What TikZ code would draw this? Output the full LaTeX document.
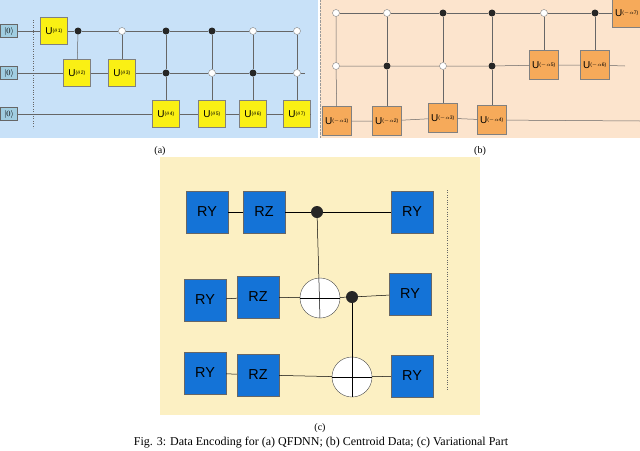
\documentclass[tikz,border=0pt]{standalone}
\usepackage{amsmath}
\usepackage{fontspec}
\setmainfont{Liberation Serif}
\newfontfamily\gatefont{Liberation Sans}
\usetikzlibrary{positioning}
\definecolor{panelA}{RGB}{200,225,248}
\definecolor{panelB}{RGB}{252,228,205}
\definecolor{panelC}{RGB}{252,240,195}
\definecolor{gateA}{RGB}{250,240,20}
\definecolor{gateB}{RGB}{246,170,90}
\definecolor{gateC}{RGB}{20,115,215}
\definecolor{ketbox}{RGB}{160,205,225}
\newcommand{\ulab}[1]{{\gatefont\normalsize U}\textsuperscript{\gatefont(#1)}}
\tikzset{
  wire/.style={draw=black!60, line width=0.5pt},
  ket/.style={draw=black!60, fill=ketbox, minimum width=17pt, minimum height=13pt, inner sep=0pt, font=\footnotesize},
  ugate/.style={draw=black!50, fill=gateA, minimum size=27pt, inner sep=0pt, font=\tiny},
  vgate/.style={draw=black!50, fill=gateB, minimum size=29pt, inner sep=0pt, font=\tiny},
  rgate/.style={draw=black!60, fill=gateC, minimum size=42pt, inner sep=0pt, font=\gatefont\Large},
  ctrl/.style={circle, fill=black!85, minimum size=7pt, inner sep=0pt},
  octrl/.style={circle, draw=black!50, fill=white, minimum size=7pt, inner sep=0pt},
  xor/.style={circle, draw=black!70, fill=white, minimum size=40pt, inner sep=0pt},
  sublab/.style={font=\fontsize{10}{12}\selectfont},
}
\begin{document}
\begin{tikzpicture}[x=1pt,y=-1pt]
\useasboundingbox (0,0) rectangle (640,450);
% backgrounds
\fill[panelA] (0,0) rectangle (318,138);
\fill[panelB] (320,0) rectangle (640,138);
\fill[panelC] (160,157) rectangle (480,415);

% (a) encoding
\foreach \n/\y in {1/31,2/73,3/114} \node[ket] (k\n) at (9,\y) {$|0\rangle$};
\draw[dotted, black!60] (33,20) -- (33,128);
\node[ugate] (u1) at (54,31) {\ulab{$\theta$1}};
\node[ugate] (u2) at (77,73) {\ulab{$\theta$2}};
\node[ugate] (u3) at (122,73) {\ulab{$\theta$3}};
\node[ugate] (u4) at (166,114) {\ulab{$\theta$4}};
\node[ugate] (u5) at (212,114) {\ulab{$\theta$5}};
\node[ugate] (u6) at (253,114) {\ulab{$\theta$6}};
\node[ugate] (u7) at (297,114) {\ulab{$\theta$7}};
\node[ctrl] (c2) at (78,31) {};
\node[octrl] (c3) at (122,31) {};
\node[ctrl] (c4a) at (166,31) {};
\node[ctrl] (c4b) at (166,73) {};
\node[ctrl] (c5a) at (212,31) {};
\node[octrl] (c5b) at (212,73) {};
\node[octrl] (c6a) at (253,31) {};
\node[ctrl] (c6b) at (253,73) {};
\node[octrl] (c7a) at (297,31) {};
\node[octrl] (c7b) at (297,73) {};
\coordinate (ea2) at (305,73);
\coordinate (ea3) at (310,114);
\draw[wire] (k1) -- (u1) -- (c2) -- (c3) -- (c4a) -- (c5a) -- (c6a) -- (c7a);
\draw[wire] (k2) -- (u2) -- (u3) -- (c4b) -- (c5b) -- (c6b) -- (c7b) -- (ea2);
\draw[wire] (k3) -- (u4) -- (u5) -- (u6) -- (u7) -- (ea3);
\draw[wire] (c2) -- (u2); \draw[wire] (c3) -- (u3);
\draw[wire] (c4a) -- (c4b) -- (u4); \draw[wire] (c5a) -- (c5b) -- (u5);
\draw[wire] (c6a) -- (c6b) -- (u6); \draw[wire] (c7a) -- (c7b) -- (u7);
\node[sublab] at (160,151) {(a)};

% (b) centroid data
\node[vgate] (v1) at (337,121) {\ulab{$-\alpha$1}};
\node[vgate] (v2) at (387,121) {\ulab{$-\alpha$2}};
\node[vgate] (v3) at (443,118) {\ulab{$-\alpha$3}};
\node[vgate] (v4) at (492,120) {\ulab{$-\alpha$4}};
\node[vgate] (v5) at (544,65) {\ulab{$-\alpha$5}};
\node[vgate] (v6) at (595,65) {\ulab{$-\alpha$6}};
\node[vgate] (v7) at (627,13) {\ulab{$-\alpha$7}};
\node[octrl] (d1a) at (336,13) {};
\node[octrl] (d1b) at (336,66) {};
\node[octrl] (d2a) at (387,13) {};
\node[ctrl] (d2b) at (387,66) {};
\node[ctrl] (d3a) at (443,13) {};
\node[octrl] (d3b) at (443,66) {};
\node[ctrl] (d4a) at (492,13) {};
\node[ctrl] (d4b) at (492,66) {};
\node[octrl] (d5) at (544,13) {};
\node[ctrl] (d6) at (595,13) {};
\coordinate (eb2) at (625,66);
\coordinate (eb3) at (640,121);
\draw[wire] (d1a) -- (d2a) -- (d3a) -- (d4a) -- (d5) -- (d6) -- (v7);
\draw[wire] (d1b) -- (d2b) -- (d3b) -- (d4b) -- (v5) -- (v6) -- (eb2);
\draw[wire] (v1) -- (v2) -- (v3) -- (v4) -- (eb3);
\draw[wire] (d1a) -- (d1b) -- (v1); \draw[wire] (d2a) -- (d2b) -- (v2);
\draw[wire] (d3a) -- (d3b) -- (v3); \draw[wire] (d4a) -- (d4b) -- (v4);
\draw[wire] (d5) -- (v5); \draw[wire] (d6) -- (v6);
\draw[densely dotted, black!40] (320,0) -- (320,138);
\node[sublab] at (480,151) {(b)};

% (c) variational part
\node[rgate] (ry1) at (207,212) {RY};
\node[rgate] (rz1) at (264,212) {RZ};
\node[ctrl, minimum size=12pt] (cc1) at (317,212) {};
\node[rgate] (ry1b) at (412,212) {RY};
\node[rgate] (ry2) at (205,300) {RY};
\node[rgate] (rz2) at (258,297) {RZ};
\node[xor] (x1) at (320,298) {};
\node[ctrl, minimum size=12pt] (cc2) at (352,297) {};
\node[rgate] (ry2b) at (410,294) {RY};
\node[rgate] (ry3) at (205,373) {RY};
\node[rgate] (rz3) at (258,375) {RZ};
\node[xor] (x2) at (352,377) {};
\node[rgate] (ry3b) at (412,376) {RY};
\draw[wire, black] (ry1) -- (rz1) -- (cc1) -- (ry1b);
\draw[wire, black] (ry2) -- (rz2) -- (x1) -- (cc2) -- (ry2b);
\draw[wire, black] (ry3) -- (rz3) -- (x2) -- (ry3b);
\draw[wire, black] (cc1) -- (x1.south);
\draw[wire, black] (cc2) -- (x2.south);
\draw[wire, black] (x1.west) -- (x1.east) (x2.west) -- (x2.east);
\draw[dotted, black!60] (447,190) -- (447,390);
\node[sublab] at (320,428) {(c)};
\node[font=\fontsize{12}{14}\selectfont] at (321,443) {Fig. 3: Data Encoding for (a) QFDNN; (b) Centroid Data; (c) Variational Part};
\end{tikzpicture}
\end{document}
